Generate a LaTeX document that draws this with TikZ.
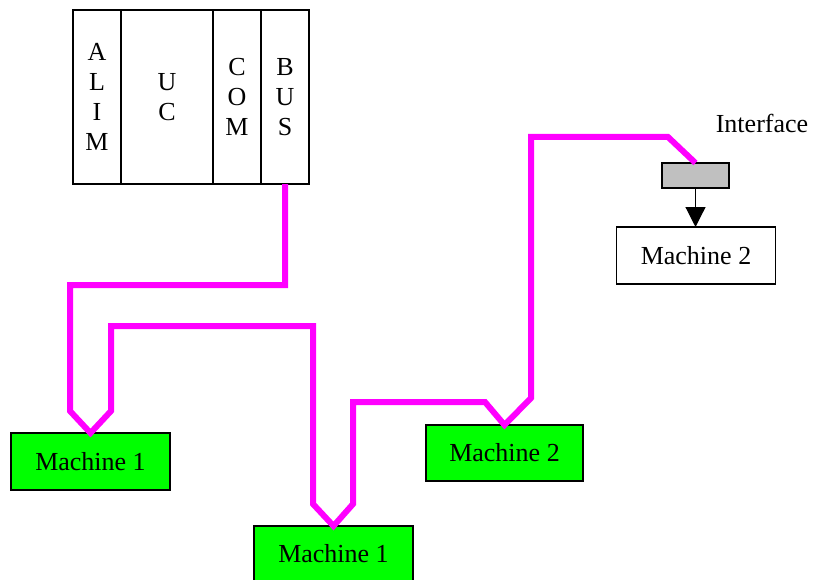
\documentclass[tikz,border=0pt]{standalone}
\usepackage{fontspec}
\setmainfont{Liberation Serif}
\usetikzlibrary{arrows.meta}
\definecolor{busmag}{RGB}{255,0,255}
\definecolor{mgreen}{RGB}{0,255,0}
\definecolor{igrey}{RGB}{192,192,192}
\begin{document}
\begin{tikzpicture}[x=1pt,y=-1pt,
  txt/.style={font=\fontsize{26}{30}\selectfont},
  part/.style={draw=black,line width=1.2pt,inner sep=0pt,outer sep=0pt,minimum height=174pt,align=center,txt},
  machine/.style={draw=black,line width=1.2pt,inner sep=0pt,outer sep=0pt,minimum height=57pt,minimum width=159pt,txt},
  busline/.style={draw=busmag,line width=6pt,line join=miter},
  arr/.style={draw=black,line width=1.2pt,-{Triangle[length=20pt,width=20pt]}}]
\clip (0,0) rectangle (826,580);
\fill[white] (0,0) rectangle (826,580);
% PLC rack
\node[part,minimum width=48pt] (alim) at (97,97) {A\\L\\I\\M};
\node[part,minimum width=92pt] (uc) at (167,97) {U\\C};
\node[part,minimum width=48pt] (com) at (237,97) {C\\O\\M};
\node[part,minimum width=48pt] (bus) at (285,97) {B\\U\\S};
% machines
\node[machine,fill=mgreen] (m1a) at (90.5,461.5) {Machine 1};
\node[machine,fill=mgreen,minimum height=56pt] (m1b) at (333.5,554) {Machine 1};
\node[machine,fill=mgreen,minimum width=157pt,minimum height=56pt] (m2g) at (504.5,453) {Machine 2};
\node[machine,fill=white] (m2w) at (696,255.5) {Machine 2};
\node[draw=black,line width=1.2pt,fill=igrey,inner sep=0pt,outer sep=0pt,minimum width=67pt,minimum height=25pt] (iface) at (695.5,175.5) {};
\node[txt,inner sep=0pt] (ilabel) at (762,123) {Interface};
% bus cable
\draw[busline] (bus.south) -- (285,285) -- (70,285) -- (70,411) -- (m1a.north)
  -- (111,411) -- (111,326) -- (313,326) -- (313,504) -- (m1b.north)
  -- (353,504) -- (353,402) -- (485,402) -- (m2g.north)
  -- (531,398) -- (531,137) -- (668,137) -- (iface.north);
% interface arrow
\draw[arr] (iface.south) -- (iface.south |- m2w.north);
\end{tikzpicture}
\end{document}
